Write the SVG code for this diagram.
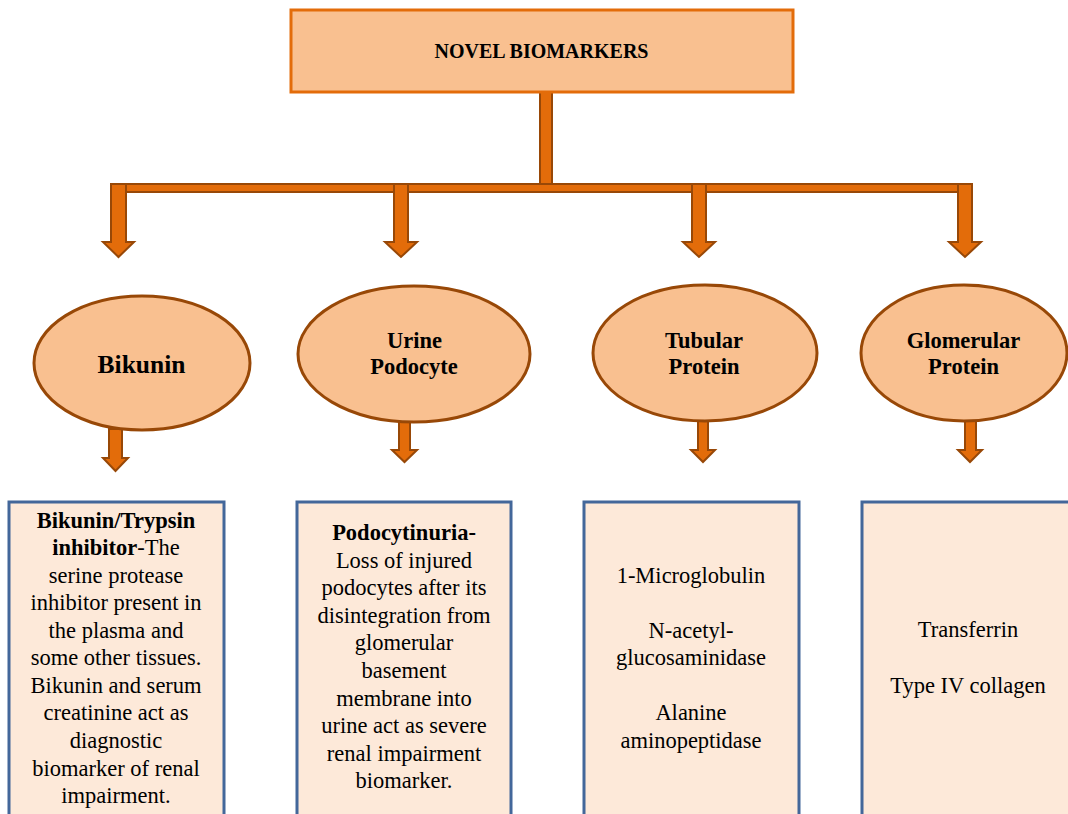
<svg xmlns="http://www.w3.org/2000/svg" width="1068" height="814" viewBox="0 0 1068 814">
<style>
.arrow{fill:#E36C0A;stroke:#984807;stroke-width:2;stroke-linejoin:miter}
.top{fill:#F9C090;stroke:#E36C0A;stroke-width:3}
.ell{fill:#F9C090;stroke:#984807;stroke-width:3}
.box{fill:#FDE9D9;stroke:#43679A;stroke-width:3}
</style>
<rect width="1068" height="814" fill="#fff"/>
<g id="connectors">
<rect class="arrow" x="540" y="91" width="12" height="94"/>
<rect class="arrow" x="111" y="184" width="861" height="8"/>
<polygon class="arrow" points="111,184 126,184 126,242 134,242 118.5,257 103,242 111,242"/>
<polygon class="arrow" points="394,184 408,184 408,242 417,242 401,257 385,242 394,242"/>
<polygon class="arrow" points="692,184 706,184 706,242 715,242 699,257 683,242 692,242"/>
<polygon class="arrow" points="958,184 972,184 972,242 981,242 965,257 949,242 958,242"/>
<polygon class="arrow" points="109,429 122,429 122,458 128,458 115.5,471 103,458 109,458"/>
<polygon class="arrow" points="399,422 410,422 410,450 417,450 404.5,462 392,450 399,450"/>
<polygon class="arrow" points="698,421 708,421 708,450 715,450 703,462 691,450 698,450"/>
<polygon class="arrow" points="965,421 976,421 976,450 982,450 970,462 958,450 965,450"/>
</g>
<g id="novel-biomarkers">
<rect class="top" x="291" y="10" width="502" height="82"/>
<text font-family="Liberation Serif" font-weight="bold" font-size="20" text-anchor="middle" x="541.5" y="58">NOVEL BIOMARKERS</text>
</g>
<g id="bikunin">
<ellipse class="ell" cx="142" cy="363" rx="108" ry="67"/>
<text font-family="Liberation Serif" font-weight="bold" font-size="25.5" text-anchor="middle" x="141.5" y="373">Bikunin</text>
</g>
<g id="urine-podocyte">
<ellipse class="ell" cx="414" cy="354" rx="116" ry="68"/>
<text font-family="Liberation Serif" font-weight="bold" font-size="22.5" text-anchor="middle" x="414.5" y="348">Urine</text>
<text font-family="Liberation Serif" font-weight="bold" font-size="22.5" text-anchor="middle" x="414" y="374">Podocyte</text>
</g>
<g id="tubular-protein">
<ellipse class="ell" cx="705" cy="353" rx="112" ry="68"/>
<text font-family="Liberation Serif" font-weight="bold" font-size="22.5" text-anchor="middle" x="704" y="348">Tubular</text>
<text font-family="Liberation Serif" font-weight="bold" font-size="22.5" text-anchor="middle" x="704" y="374">Protein</text>
</g>
<g id="glomerular-protein">
<ellipse class="ell" cx="964" cy="353" rx="103" ry="68"/>
<text font-family="Liberation Serif" font-weight="bold" font-size="22.5" text-anchor="middle" x="963.5" y="348">Glomerular</text>
<text font-family="Liberation Serif" font-weight="bold" font-size="22.5" text-anchor="middle" x="963.5" y="374">Protein</text>
</g>
<g id="bikunin-box">
<rect class="box" x="9" y="502" width="215" height="320"/>
<text font-family="Liberation Serif" font-size="22.5" text-anchor="middle" x="116" y="528" font-weight="bold">Bikunin/Trypsin</text>
<text font-family="Liberation Serif" font-size="22.5" text-anchor="middle" x="116" y="555"><tspan font-weight="bold">inhibitor</tspan>-The</text>
<text font-family="Liberation Serif" font-size="22.5" text-anchor="middle" x="116" y="583">serine protease</text>
<text font-family="Liberation Serif" font-size="22.5" text-anchor="middle" x="116" y="610">inhibitor present in</text>
<text font-family="Liberation Serif" font-size="22.5" text-anchor="middle" x="116" y="638">the plasma and</text>
<text font-family="Liberation Serif" font-size="22.5" text-anchor="middle" x="116" y="665">some other tissues.</text>
<text font-family="Liberation Serif" font-size="22.5" text-anchor="middle" x="116" y="693">Bikunin and serum</text>
<text font-family="Liberation Serif" font-size="22.5" text-anchor="middle" x="116" y="720">creatinine act as</text>
<text font-family="Liberation Serif" font-size="22.5" text-anchor="middle" x="116" y="748">diagnostic</text>
<text font-family="Liberation Serif" font-size="22.5" text-anchor="middle" x="116" y="776">biomarker of renal</text>
<text font-family="Liberation Serif" font-size="22.5" text-anchor="middle" x="116" y="803">impairment.</text>
</g>
<g id="podocytinuria-box">
<rect class="box" x="297" y="502" width="214" height="320"/>
<text font-family="Liberation Serif" font-size="22.5" text-anchor="middle" x="404" y="540" font-weight="bold">Podocytinuria-</text>
<text font-family="Liberation Serif" font-size="22.5" text-anchor="middle" x="404" y="568">Loss of injured</text>
<text font-family="Liberation Serif" font-size="22.5" text-anchor="middle" x="404" y="595">podocytes after its</text>
<text font-family="Liberation Serif" font-size="22.5" text-anchor="middle" x="404" y="623">disintegration from</text>
<text font-family="Liberation Serif" font-size="22.5" text-anchor="middle" x="404" y="650">glomerular</text>
<text font-family="Liberation Serif" font-size="22.5" text-anchor="middle" x="404" y="678">basement</text>
<text font-family="Liberation Serif" font-size="22.5" text-anchor="middle" x="404" y="706">membrane into</text>
<text font-family="Liberation Serif" font-size="22.5" text-anchor="middle" x="404" y="733">urine act as severe</text>
<text font-family="Liberation Serif" font-size="22.5" text-anchor="middle" x="404" y="761">renal impairment</text>
<text font-family="Liberation Serif" font-size="22.5" text-anchor="middle" x="404" y="788">biomarker.</text>
</g>
<g id="tubular-box">
<rect class="box" x="584" y="502" width="215" height="320"/>
<text font-family="Liberation Serif" font-size="22.5" text-anchor="middle" x="691" y="583">1-Microglobulin</text>
<text font-family="Liberation Serif" font-size="22.5" text-anchor="middle" x="691" y="638">N-acetyl-</text>
<text font-family="Liberation Serif" font-size="22.5" text-anchor="middle" x="691" y="665">glucosaminidase</text>
<text font-family="Liberation Serif" font-size="22.5" text-anchor="middle" x="691" y="720">Alanine</text>
<text font-family="Liberation Serif" font-size="22.5" text-anchor="middle" x="691" y="748">aminopeptidase</text>
</g>
<g id="glomerular-box">
<rect class="box" x="862" y="502" width="220" height="320"/>
<text font-family="Liberation Serif" font-size="22.5" text-anchor="middle" x="968" y="637">Transferrin</text>
<text font-family="Liberation Serif" font-size="22.5" text-anchor="middle" x="968" y="693">Type IV collagen</text>
</g>
</svg>
